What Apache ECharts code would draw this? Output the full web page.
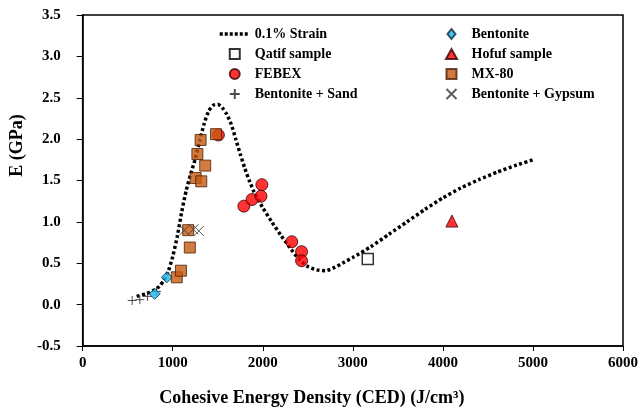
<!DOCTYPE html>
<html>
<head>
<meta charset="utf-8">
<script src="https://cdn.jsdelivr.net/npm/echarts@6/dist/echarts.min.js"></script>
<style>
  html, body { margin: 0; padding: 0; background: #fff; }
  #chart { width: 641px; height: 412px; }
</style>
</head>
<body>
<div id="chart"></div>
<script>
// Elastic modulus E (GPa) versus cohesive energy density (J/cm3)
const strainCurve = [
  [600, 0.10], [700, 0.13], [800, 0.18], [850, 0.22], [900, 0.29], [950, 0.40],
  [1000, 0.58], [1050, 0.82], [1100, 1.12], [1150, 1.38], [1200, 1.58], [1250, 1.76],
  [1300, 1.98], [1350, 2.19], [1400, 2.34], [1450, 2.41], [1500, 2.42], [1550, 2.38],
  [1600, 2.30], [1650, 2.18], [1700, 2.00], [1750, 1.82], [1800, 1.65], [1850, 1.50],
  [1900, 1.37], [1950, 1.27], [2000, 1.17], [2100, 1.00], [2200, 0.84], [2300, 0.69],
  [2400, 0.55], [2500, 0.46], [2600, 0.42], [2700, 0.41], [2800, 0.45], [2900, 0.51],
  [3000, 0.57], [3200, 0.70], [3400, 0.85], [3600, 1.00], [3800, 1.15], [4000, 1.29],
  [4200, 1.41], [4400, 1.51], [4600, 1.60], [4800, 1.68], [5000, 1.75]
];
const qatif = [[3166, 0.55]];
const hofuf = [[4100, 1.01]];
const febex = [
  [1507, 2.05], [1990, 1.45], [1790, 1.19], [1881, 1.27], [1980, 1.31],
  [2322, 0.76], [2431, 0.64], [2431, 0.53]
];
const bentonite = [[800, 0.13], [935, 0.33]];
const bentoniteSand = [[550, 0.05], [635, 0.06], [720, 0.10], [820, 0.16]];
const bentoniteGypsum = [[1130, 0.90], [1230, 0.91], [1290, 0.89]];
const mx80 = [
  [1045, 0.33], [1092, 0.41], [1190, 0.69], [1172, 0.90], [1255, 1.53],
  [1317, 1.49], [1274, 1.82], [1310, 1.99], [1361, 1.68], [1481, 2.06]
];

const xTicks = { min: 0, max: 6000, interval: 1000 };
const yTicks = { min: -0.5, max: 3.5, interval: 0.5 };

// Legend swatch shapes as paths so they keep their proportions
const squareIcon = 'path://M0,0L10,0L10,10L0,10Z';
const diamondIcon = 'path://M4,0L8,5L4,10L0,5Z';
const triangleIcon = 'path://M5,0L10,9L0,9Z';

// the dotted curve gets a plain line swatch (no centre marker)
const legendLeft = [
  {
    name: '0.1% Strain',
    itemStyle: { color: 'rgba(0,0,0,0)', borderWidth: 0 },
    lineStyle: { width: 3.5, type: [3, 2], cap: 'butt', color: '#000' }
  },
  { name: 'Qatif sample', icon: squareIcon },
  'FEBEX',
  'Bentonite + Sand'
];
const legendRight = [
  { name: 'Bentonite', icon: diamondIcon },
  { name: 'Hofuf sample', icon: triangleIcon },
  { name: 'MX-80', icon: squareIcon },
  'Bentonite + Gypsum'
];

const FONT = '"Liberation Serif", "Times New Roman", serif';
const plusPath = 'path://M0,5L10,5M5,0L5,10';
const crossPath = 'path://M0,0L10,10M10,0L0,10';

const legendStyle = {
  orient: 'vertical',
  top: 26,
  padding: 0,
  itemWidth: 30,
  itemHeight: 10,
  itemGap: 4,
  symbolKeepAspect: true,
  selectedMode: false,
  textStyle: { fontFamily: FONT, fontWeight: 'bold', fontSize: 14, color: '#000', lineHeight: 16 }
};

const chart = echarts.init(document.getElementById('chart'), null, { renderer: 'canvas' });
chart.setOption({
  animation: false,
  backgroundColor: '#fff',
  grid: {
    left: 76, right: 15, top: 15, bottom: 64,
    show: true, borderColor: '#000', borderWidth: 1.5, backgroundColor: 'transparent'
  },
  legend: [
    Object.assign({ left: 218, data: legendLeft }, legendStyle),
    Object.assign({ left: 444, data: legendRight }, legendStyle)
  ],
  xAxis: {
    type: 'value',
    min: xTicks.min, max: xTicks.max, interval: xTicks.interval,
    name: 'Cohesive Energy Density (CED) (J/cm³)',
    nameLocation: 'middle',
    nameGap: 43,
    nameTextStyle: { fontFamily: FONT, fontWeight: 'bold', fontSize: 18, color: '#000', padding: [0, 82, 0, 0] },
    axisLine: { show: true, onZero: false, lineStyle: { color: '#000', width: 1.5 } },
    axisTick: { show: true, inside: false, length: 5, lineStyle: { color: '#000', width: 1 } },
    axisLabel: {
      margin: 10, fontFamily: FONT, fontWeight: 'bold', fontSize: 15, color: '#000',
      formatter: v => String(v)
    },
    splitLine: { show: false }
  },
  yAxis: {
    type: 'value',
    min: yTicks.min, max: yTicks.max, interval: yTicks.interval,
    name: 'E (GPa)',
    nameLocation: 'middle',
    nameGap: 46,
    nameTextStyle: { fontFamily: FONT, fontWeight: 'bold', fontSize: 18, color: '#000', padding: [0, 0, 0, 70] },
    axisLine: { show: true, onZero: false, lineStyle: { color: '#000', width: 1.5 } },
    axisTick: { show: true, inside: false, length: 6, lineStyle: { color: '#000', width: 1 } },
    axisLabel: {
      margin: 22, fontFamily: FONT, fontWeight: 'bold', fontSize: 15, color: '#000',
      formatter: v => v.toFixed(1)
    },
    splitLine: { show: false }
  },
  series: [
    {
      name: '0.1% Strain', type: 'line', data: strainCurve, symbol: 'none', smooth: 0.2,
      lineStyle: { color: '#000', width: 3.5, type: [3, 2.5], cap: 'butt' },
      itemStyle: { color: '#000' }, z: 1
    },
    {
      name: 'Qatif sample', type: 'scatter', data: qatif, symbol: 'rect', symbolSize: 11,
      itemStyle: { color: '#fff', borderColor: '#000', borderWidth: 1.5 }, z: 2
    },
    {
      name: 'FEBEX', type: 'scatter', data: febex, symbol: 'circle', symbolSize: 12,
      itemStyle: { color: '#ff0000', borderColor: '#3a0000', borderWidth: 1 }, z: 2
    },
    {
      name: 'Bentonite + Sand', type: 'scatter', data: bentoniteSand, symbol: plusPath, symbolSize: 9,
      itemStyle: { color: 'none', borderColor: '#222', borderWidth: 1 }, z: 3
    },
    {
      name: 'Bentonite', type: 'scatter', data: bentonite, symbol: 'diamond', symbolSize: 11,
      itemStyle: { color: '#1fb4ec', borderColor: '#0b2a3a', borderWidth: 1 }, z: 3
    },
    {
      name: 'Hofuf sample', type: 'scatter', data: hofuf, symbol: 'triangle', symbolSize: 12,
      itemStyle: { color: '#ff0000', borderColor: '#3a0000', borderWidth: 1 }, z: 3
    },
    {
      name: 'MX-80', type: 'scatter', data: mx80, symbol: 'rect', symbolSize: 11,
      itemStyle: { color: '#c55a11', borderColor: '#4a2206', borderWidth: 1 }, z: 4
    },
    {
      name: 'Bentonite + Gypsum', type: 'scatter', data: bentoniteGypsum, symbol: crossPath, symbolSize: 10,
      itemStyle: { color: 'none', borderColor: '#333', borderWidth: 1 }, z: 5
    }
  ]
});
</script>
</body>
</html>
